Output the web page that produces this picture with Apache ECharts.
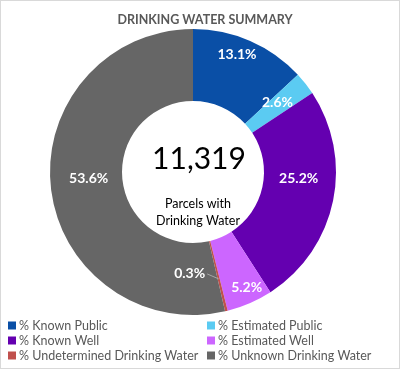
<!DOCTYPE html>
<html>
<head>
<meta charset="utf-8">
<script src="https://cdn.jsdelivr.net/npm/echarts@6/dist/echarts.min.js"></script>
<style>
  html, body { margin: 0; padding: 0; background: #fff; }
  #chart { width: 400px; height: 369px; box-sizing: border-box; border: 1px solid #d9d9d9; }
</style>
</head>
<body>
<div id="chart"></div>
<script>
const categories = ['% Known Public', '% Estimated Public', '% Known Well', '% Estimated Well', '% Undetermined Drinking Water', '% Unknown Drinking Water'];
const percentValues = [13.1, 2.6, 25.2, 5.2, 0.3, 53.6];
const totalParcels = '11,319';
const centerCaption = 'Parcels with\nDrinking Water';
const chartTitle = 'DRINKING WATER SUMMARY';

const colors = ['#0A4FA6', '#5BCBF2', '#6400B0', '#CC66FF', '#C0504D', '#666666'];
const labelShift = [[0, -17], [-2, -2], [-2, -16], [10, 15], [-29, -5], [5, -6]];
const SMALL = 4; // thin slice whose label sits beside it with a leader line

const chart = echarts.init(document.getElementById('chart'), null, { renderer: 'canvas' });
const FONT = 'Lato, "Open Sans", sans-serif';

const legendBase = {
  orient: 'vertical', top: 318, height: 50, padding: 0, icon: 'rect',
  itemWidth: 8, itemHeight: 8, itemGap: 2,
  textStyle: { fontFamily: FONT, fontSize: 12.5, color: '#595959', padding: [0, 0, 0, -2], lineHeight: 13 }
};

chart.setOption({
  animation: false,
  color: colors,
  title: [
    { text: chartTitle, left: 199, top: 7, textAlign: 'center',
      textStyle: { fontFamily: FONT, fontSize: 12.5, fontWeight: 'bold', color: '#595959' } },
    { text: totalParcels, left: 193, top: 138, textAlign: 'center',
      textStyle: { fontFamily: FONT, fontSize: 30, fontWeight: 'normal', color: '#000' } },
    { text: centerCaption, left: 192, top: 189, textAlign: 'center',
      textStyle: { fontFamily: FONT, fontSize: 12.5, fontWeight: 'normal', color: '#000', lineHeight: 17 } }
  ],
  legend: [
    Object.assign({}, legendBase, { left: 7, data: [categories[0], categories[2], categories[4]] }),
    Object.assign({}, legendBase, { left: 206, data: [categories[1], categories[3], categories[5]] })
  ],
  series: [{
    type: 'pie',
    center: [192, 171],
    radius: [71, 143],
    startAngle: 90,
    clockwise: true,
    avoidLabelOverlap: false,
    label: {
      show: true, position: 'inside', color: '#fff', fontFamily: FONT,
      fontWeight: 'bold', fontSize: 14,
      formatter: p => p.value.toFixed(1) + '%'
    },
    labelLine: { show: false },
    emphasis: { disabled: true },
    data: categories.map((name, i) => ({
      name, value: percentValues[i],
      label: { offset: labelShift[i] }
    }))
  }]
});

// Leader line from the thin slice's label to the slice, using the library's sector layout
(function () {
  const data = chart.getModel().getSeriesByIndex(0).getData();
  const lay = data.getItemLayout(SMALL);
  const el = data.getItemGraphicEl(SMALL);
  const txt = el && el.getTextContent && el.getTextContent();
  if (!lay || !txt) return;
  const mid = (lay.startAngle + lay.endAngle) / 2;
  const r = lay.r0 + (lay.r - lay.r0) * 0.54;
  const px = lay.cx + r * Math.cos(mid);
  const py = lay.cy + r * Math.sin(mid);
  const br = txt.getBoundingRect().clone();
  br.applyTransform(txt.getComputedTransform());
  const sx = br.x + br.width + 2;
  const sy = br.y + br.height / 2;
  chart.setOption({
    graphic: [{
      type: 'line', silent: true, z: 10,
      shape: { x1: sx, y1: sy, x2: px, y2: py },
      style: { stroke: '#a6a6a6', lineWidth: 1 }
    }]
  });
})();
</script>
</body>
</html>
